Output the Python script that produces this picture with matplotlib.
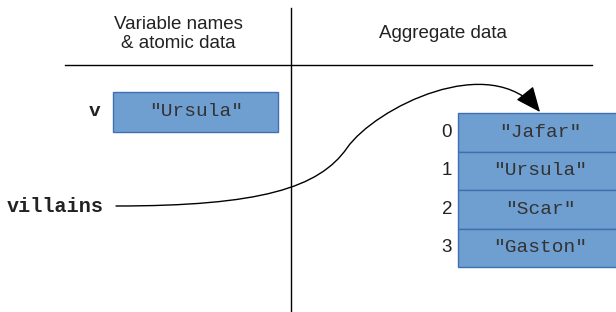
import matplotlib.pyplot as plt
from matplotlib.patches import Rectangle, FancyArrowPatch
from matplotlib.path import Path

# diagram content
headers = ["Variable names\n& atomic data", "Aggregate data"]
var_name = "v"
var_value = '"Ursula"'
list_name = "villains"
list_values = ['"Jafar"', '"Ursula"', '"Scar"', '"Gaston"']
list_index = ["0", "1", "2", "3"]

FILL = "#6f9fd1"
EDGE = "#3f6fae"
SANS = ["Liberation Sans", "DejaVu Sans"]
MONO = ["Liberation Mono", "DejaVu Sans Mono"]

fig = plt.figure(figsize=(6.16, 3.12), dpi=100)
ax = fig.add_axes([0, 0, 1, 1])
ax.set_xlim(0, 616)
ax.set_ylim(312, 0)
ax.axis("off")

# divider lines
ax.plot([291, 291], [8, 312], color="black", lw=1)
ax.plot([65, 592], [65, 65], color="black", lw=1)

ax.text(178, 34, headers[0], ha="center", va="center", fontsize=13.5,
        family=SANS, color="#222222", linespacing=1.15)
ax.text(443, 33, headers[1], ha="center", va="center", fontsize=13.5,
        family=SANS, color="#222222")

# atomic variable
ax.add_patch(Rectangle((113, 92), 165, 40, facecolor=FILL, edgecolor=EDGE, lw=1))
ax.text(196, 112, var_value, ha="center", va="center", fontsize=14,
        family=MONO, color="#333333")
ax.text(95, 112, var_name, ha="center", va="center", fontsize=14,
        family=MONO, weight="bold", color="#222222")

# list cells
top, h = 113, 38.5
for i, (idx, val) in enumerate(zip(list_index, list_values)):
    y = top + i * h
    ax.add_patch(Rectangle((458, y), 165, h, facecolor=FILL, edgecolor=EDGE, lw=1))
    ax.text(540, y + h / 2, val, ha="center", va="center", fontsize=14,
            family=MONO, color="#333333")
    ax.text(447, y + h / 2, idx, ha="center", va="center", fontsize=13.5,
            family=SANS, color="#222222")

ax.text(55, 206, list_name, ha="center", va="center", fontsize=14.5,
        family=MONO, weight="bold", color="#222222")

# reference arrow
verts = [(116, 206), (260, 206), (319, 188), (347, 148),
         (375, 108), (490, 50), (540, 112)]
codes = [Path.MOVETO] + [Path.CURVE4] * 6
arrow = FancyArrowPatch(path=Path(verts, codes),
                        arrowstyle="-|>,head_length=6,head_width=2.6",
                        color="black", lw=1, mutation_scale=2.6)
ax.add_patch(arrow)

fig.savefig("out.png", dpi=100)
